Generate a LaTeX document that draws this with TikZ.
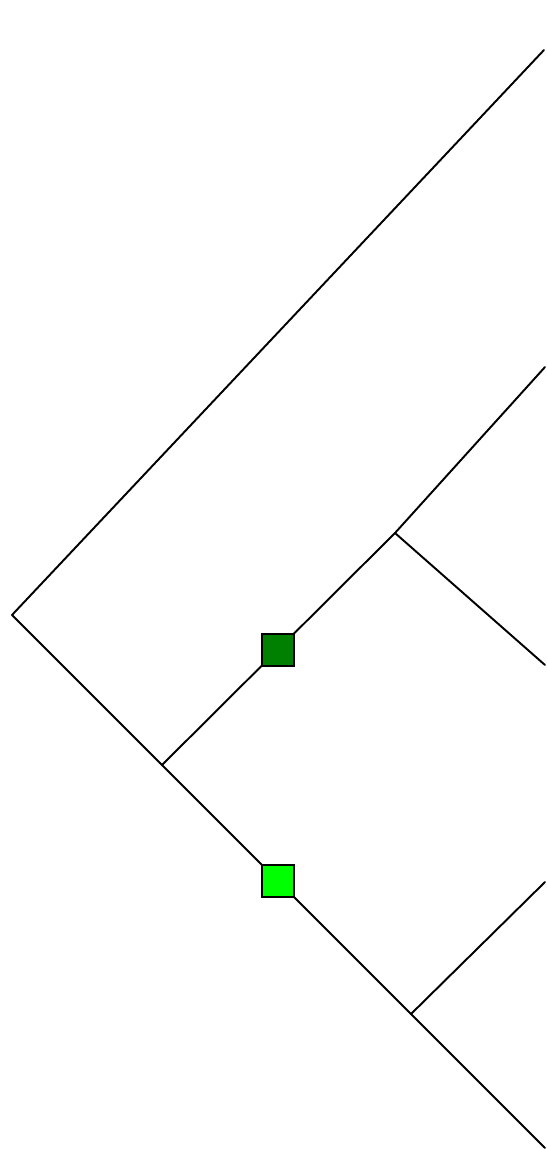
\documentclass[tikz,border=0pt]{standalone}
\usetikzlibrary{positioning}
\definecolor{darkmark}{RGB}{0,128,0}
\definecolor{lightmark}{RGB}{0,255,0}

\begin{document}
\begin{tikzpicture}[
  x=0.02cm, y=-0.02cm,
  branch/.style={draw, line width=1.1pt, line cap=round},
  tagbox/.style={draw, line width=1.3pt, minimum size=0.65cm, inner sep=0pt}
]
\useasboundingbox (0,0) rectangle (547,1149);

% inner nodes of the tree
\coordinate (root) at (12,615);
\coordinate (inA) at (162,765);
\coordinate (inB) at (395,533);
\coordinate (inC) at (411,1014);

% leaves
\coordinate (leafA) at (544,50);
\coordinate (leafB) at (545,367);
\coordinate (leafC) at (545,665);
\coordinate (leafD) at (545,882);
\coordinate (leafE) at (545,1148);

\draw[branch] (root) -- (leafA);
\draw[branch] (root) -- (inA);
\draw[branch] (inA) -- (inB);
\draw[branch] (inB) -- (leafB);
\draw[branch] (inB) -- (leafC);
\draw[branch] (inA) -- (inC);
\draw[branch] (inC) -- (leafD);
\draw[branch] (inC) -- (leafE);

\node[tagbox, fill=darkmark] (dark) at (278,650) {};
\node[tagbox, fill=lightmark] (light) at (278,881) {};

\end{tikzpicture}
\end{document}
